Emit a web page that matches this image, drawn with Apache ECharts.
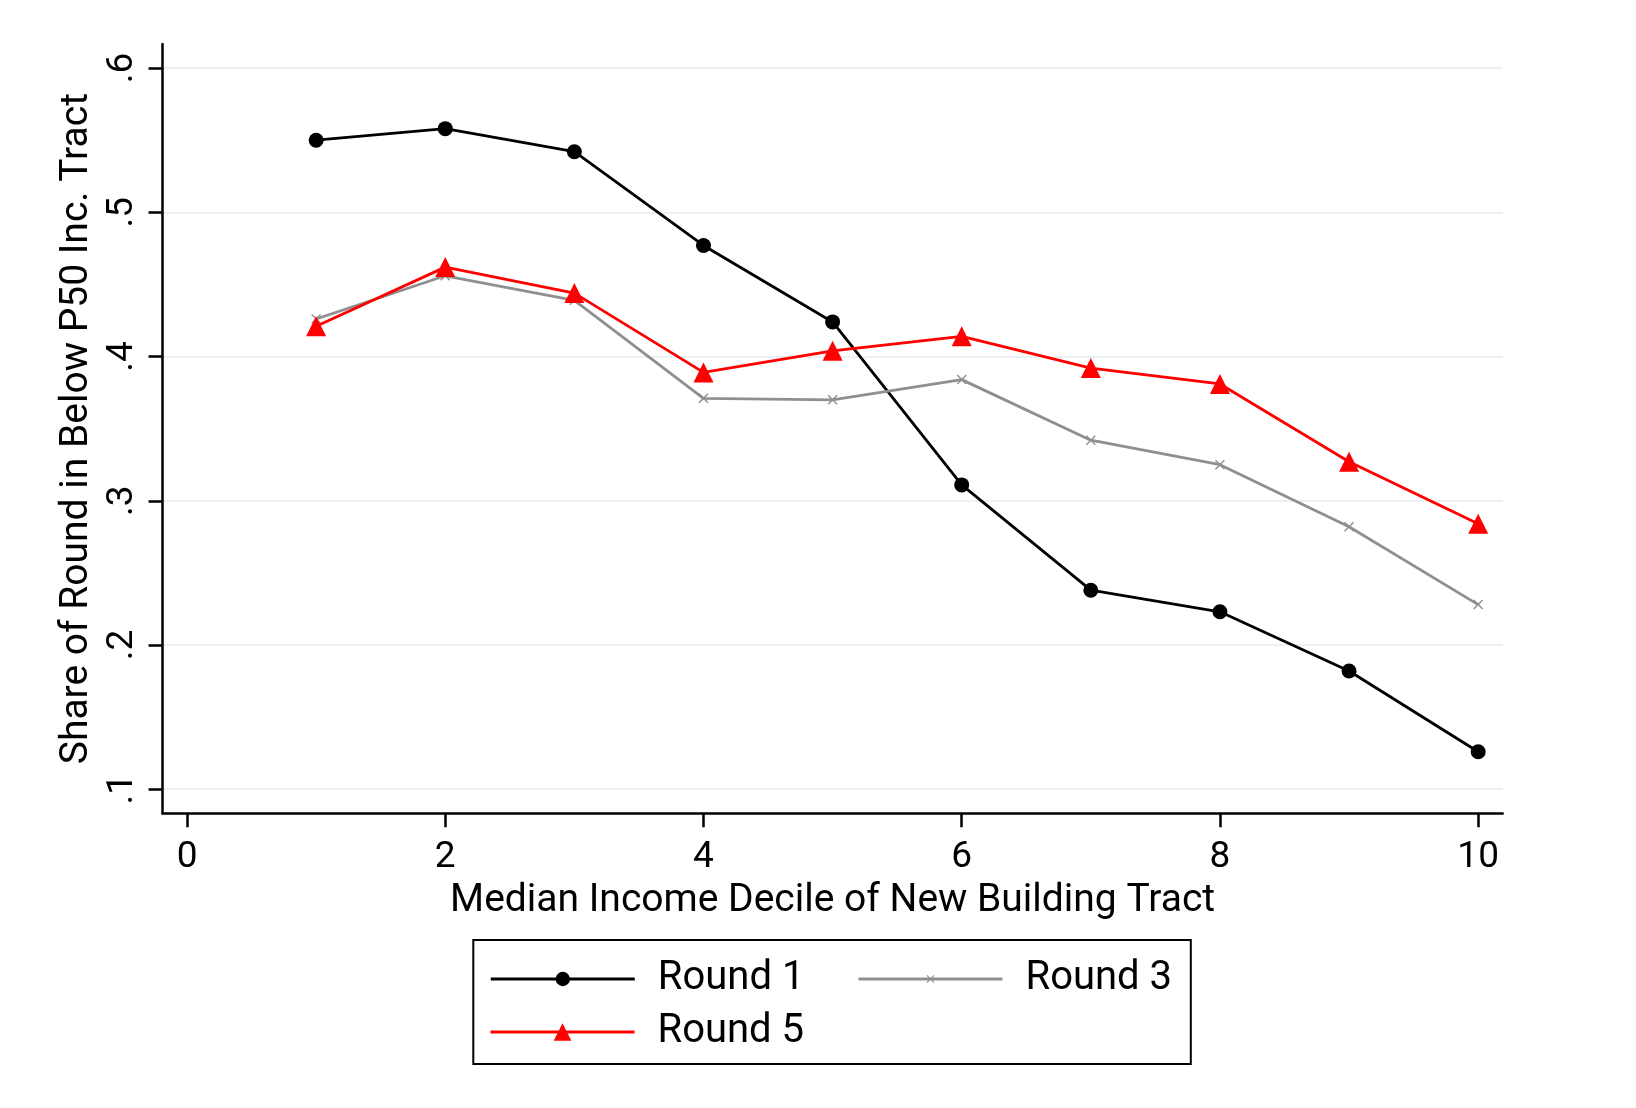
<!DOCTYPE html>
<html>
<head>
<meta charset="utf-8">
<script src="https://cdn.jsdelivr.net/npm/echarts@6/dist/echarts.min.js"></script>
<style>
html,body{margin:0;padding:0;background:#fff;}
#chart{width:1636px;height:1108px;}
</style>
</head>
<body>
<div id="chart"></div>
<script>
const deciles = [1, 2, 3, 4, 5, 6, 7, 8, 9, 10];
const round1 = [0.550, 0.558, 0.542, 0.477, 0.424, 0.311, 0.238, 0.223, 0.182, 0.126];
const round3 = [0.426, 0.456, 0.439, 0.371, 0.370, 0.384, 0.342, 0.325, 0.282, 0.228];
const round5 = [0.421, 0.462, 0.444, 0.389, 0.404, 0.414, 0.392, 0.381, 0.327, 0.284];
const xTicks = [0, 2, 4, 6, 8, 10];
const yTicks = [0.1, 0.2, 0.3, 0.4, 0.5, 0.6];
const seriesNames = ['Round 1', 'Round 3', 'Round 5'];

const FONT = 'Roboto';
const xMark = 'path://M1,0 L5,4 L9,0 L10,1 L6,5 L10,9 L9,10 L5,6 L1,10 L0,9 L4,5 L0,1 Z';

function pairs(vals) { return deciles.map((d, i) => [d, vals[i]]); }

const chart = echarts.init(document.getElementById('chart'), null, {renderer: 'canvas'});
const legendText = {fontFamily: FONT, fontSize: 40, color: '#000', width: 150, lineHeight: 40, padding: [0, 0, 0, 18]};
chart.setOption({
  animation: false,
  backgroundColor: '#fff',
  textStyle: {fontFamily: FONT},
  grid: {left: 162.5, right: 133.3, top: 44, bottom: 294.7, containLabel: false},
  xAxis: {
    type: 'value', min: -0.19, max: 10.19,
    name: 'Median Income Decile of New Building Tract',
    nameLocation: 'middle', nameGap: 68,
    nameTextStyle: {fontFamily: FONT, fontSize: 39, color: '#000'},
    axisLine: {show: true, onZero: false, lineStyle: {color: '#000', width: 2.5}},
    axisTick: {show: true, length: 14, lineStyle: {color: '#000', width: 2.5}, customValues: xTicks},
    axisLabel: {fontFamily: FONT, fontSize: 37, color: '#000', margin: 26, customValues: xTicks},
    splitLine: {show: false}
  },
  yAxis: {
    type: 'value', min: 0.0833, max: 0.6167,
    name: 'Share of Round in Below P50 Inc. Tract',
    nameLocation: 'middle', nameGap: 54,
    nameTextStyle: {fontFamily: FONT, fontSize: 39, color: '#000'},
    axisLine: {show: true, onZero: false, lineStyle: {color: '#000', width: 2.5}},
    axisTick: {show: true, length: 14, lineStyle: {color: '#000', width: 2.5}, customValues: yTicks},
    axisLabel: {fontFamily: FONT, fontSize: 37, color: '#000', margin: 21, rotate: 90, customValues: yTicks,
      formatter: v => v.toFixed(1).replace(/^0/, '')},
    splitLine: {show: true, lineStyle: {color: '#eaf2f3', width: 2}}
  },
  legend: [
    {
      data: ['Round 1'], left: 473.3, top: 940, orient: 'horizontal',
      padding: [19, 383, 65, 16], itemWidth: 144, itemHeight: 18,
      borderColor: '#000', borderWidth: 2, selectedMode: false,
      lineStyle: {width: 3},
      textStyle: legendText
    },
    {
      data: ['Round 3'], left: 857, top: 959, orient: 'horizontal',
      padding: 0, itemWidth: 144, itemHeight: 10, selectedMode: false,
      lineStyle: {width: 3},
      textStyle: legendText
    },
    {
      data: ['Round 5'], left: 489, top: 1012, orient: 'horizontal',
      padding: 0, itemWidth: 144, itemHeight: 22, selectedMode: false,
      lineStyle: {width: 3},
      textStyle: legendText
    }
  ],
  series: [
    {
      name: seriesNames[0], type: 'line', data: pairs(round1),
      symbol: 'circle', symbolSize: 15,
      lineStyle: {color: '#000', width: 2.8}, itemStyle: {color: '#000'}, z: 2
    },
    {
      name: seriesNames[1], type: 'line', data: pairs(round3),
      symbol: xMark, symbolSize: 10,
      lineStyle: {color: '#8f8f8f', width: 2.8}, itemStyle: {color: '#8f8f8f'}, z: 3
    },
    {
      name: seriesNames[2], type: 'line', data: pairs(round5),
      symbol: 'triangle', symbolSize: 20,
      lineStyle: {color: '#ff0000', width: 2.8}, itemStyle: {color: '#ff0000'}, z: 4
    }
  ]
});
</script>
</body>
</html>
